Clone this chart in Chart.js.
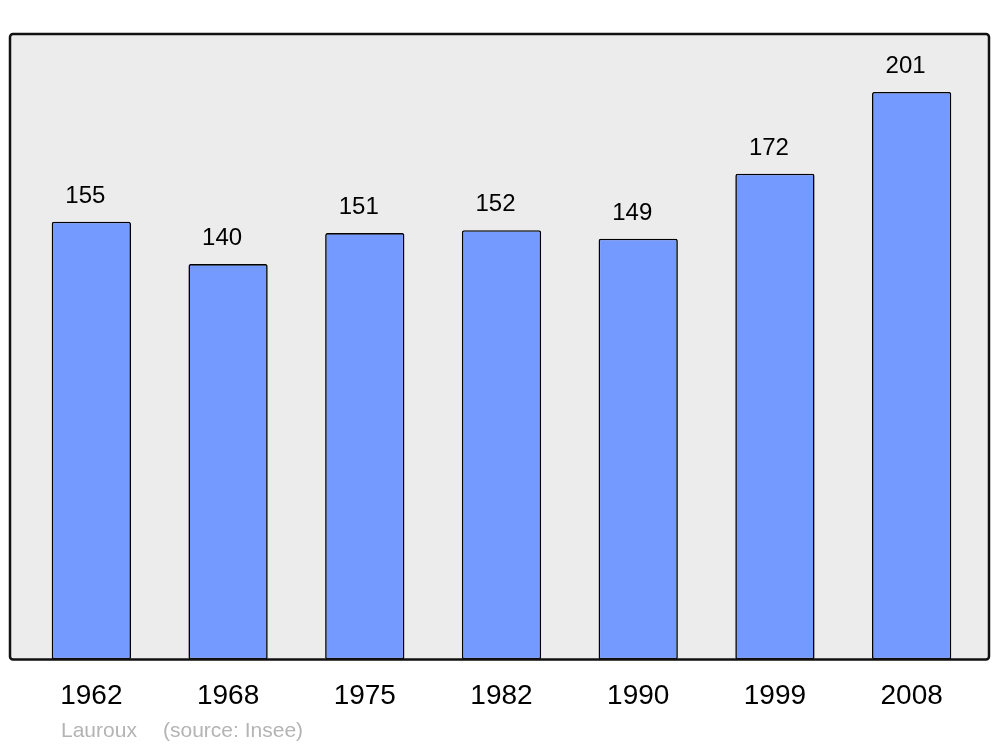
<!DOCTYPE html>
<html>
<head>
<meta charset="utf-8">
<script src="https://cdn.jsdelivr.net/npm/chart.js@4"></script>
<style>
  html, body { margin: 0; padding: 0; background: #fff; }
  #wrap { width: 1000px; height: 747px; position: relative; }
</style>
</head>
<body>
<div id="wrap"><canvas id="popChart" width="1000" height="747"></canvas></div>
<script>
const years = ['1962', '1968', '1975', '1982', '1990', '1999', '2008']
const population = [155, 140, 151, 152, 149, 172, 201]
const townName = 'Lauroux'
const sourceNote = '(source: Insee)'

const ctx = document.getElementById('popChart');

// grey panel with black frame behind the bars
var framePlugin = {
    id: 'frame',
    beforeDraw: function(chart) {
        var a = chart.chartArea;
        var c = chart.ctx;
        var l = a.left - 13, r = a.right + 9, t = a.top, b = a.bottom;
        c.save();
        c.beginPath();
        c.roundRect(l, t, r - l, b - t, 3);
        c.fillStyle = '#ececec';
        c.fill();
        c.restore();
    },
    afterDatasetsDraw: function(chart) {
        var a = chart.chartArea;
        var c = chart.ctx;
        var l = a.left - 13, r = a.right + 9, t = a.top, b = a.bottom;
        c.save();
        c.beginPath();
        c.roundRect(l, t, r - l, b - t, 3);
        c.lineWidth = 2.5;
        c.strokeStyle = '#111';
        c.stroke();

        // values above the bars
        var meta = chart.getDatasetMeta(0);
        c.fillStyle = '#000';
        c.font = '24px "Liberation Sans", Arial, sans-serif';
        c.textAlign = 'center';
        c.textBaseline = 'alphabetic';
        meta.data.forEach(function(bar, i) {
            c.fillText(String(population[i]), bar.x - 6, bar.y - 19);
        });

        // footer
        c.fillStyle = '#b4b4b4';
        c.font = '21px "Liberation Sans", Arial, sans-serif';
        c.textAlign = 'left';
        c.fillText(townName, 61, 737);
        c.fillText(sourceNote, 163, 737);
        c.restore();
    }
};

var myChart = new Chart(ctx, {
    type: 'bar',
    data: {
        labels: years,
        datasets: [{
            data: population,
            backgroundColor: '#7499ff',
            borderColor: '#000',
            borderWidth: 1.6,
            borderRadius: 2,
            borderSkipped: false,
            barPercentage: 0.58,
            categoryPercentage: 1
        }]
    },
    options: {
        responsive: false,
        animation: false,
        layout: {
            padding: { left: 23, right: 20, top: 34, bottom: 14 }
        },
        plugins: {
            legend: { display: false },
            tooltip: { enabled: false }
        },
        scales: {
            x: {
                grid: { display: false, drawTicks: false },
                border: { display: false },
                ticks: {
                    color: '#000',
                    padding: 20,
                    font: { family: '"Liberation Sans", Arial, sans-serif', size: 28 }
                }
            },
            y: {
                display: false,
                min: 0,
                max: 221.5
            }
        }
    },
    plugins: [framePlugin]
});
</script>
</body>
</html>
